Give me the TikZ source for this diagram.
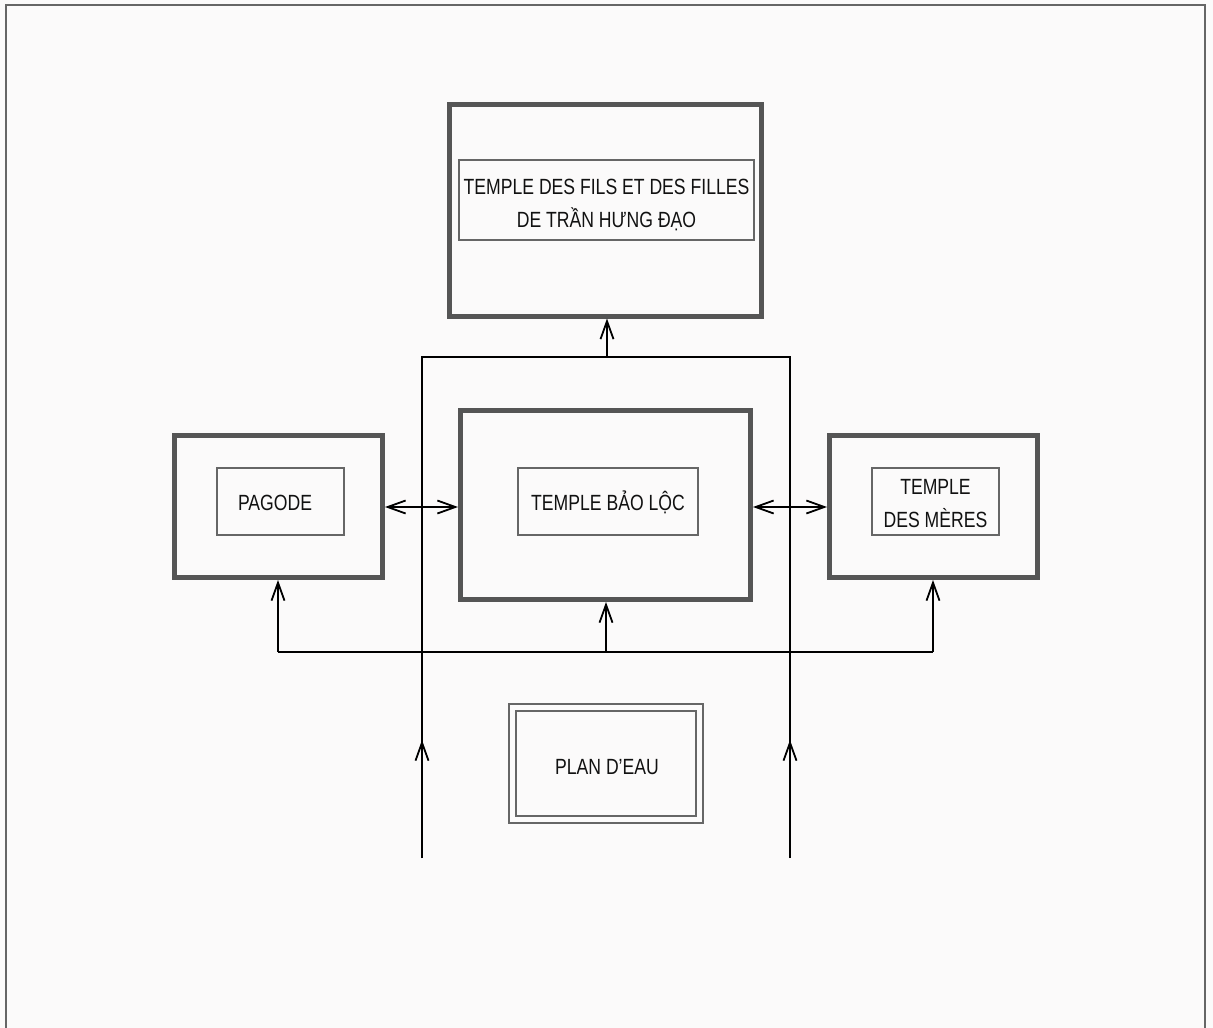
\documentclass[tikz,border=0pt]{standalone}
\usepackage{fontspec}
\setmainfont{Liberation Sans}[FakeStretch=0.8]
\usetikzlibrary{arrows.meta}
\definecolor{bgcol}{HTML}{FBFAFA}
\definecolor{thickgray}{HTML}{555555}
\definecolor{thingray}{HTML}{666666}
\definecolor{ink}{HTML}{111111}
\tikzset{
  bigbox/.style={draw=thickgray, line width=5pt, minimum width=#1, inner sep=0pt},
  innerbox/.style={draw=thingray, line width=1.6pt, inner sep=0pt},
  label/.style={font=\fontsize{22}{33}\selectfont, text=ink, align=center, inner sep=0pt},
  conn/.style={draw=black, line width=1.8pt},
  arr/.style={conn, -{Straight Barb[length=18pt,width=13pt,line width=1.8pt]}},
  darr/.style={conn, {Straight Barb[length=18pt,width=13pt,line width=1.8pt]}-{Straight Barb[length=18pt,width=13pt,line width=1.8pt]}},
}
\begin{document}
\begin{tikzpicture}[x=1pt,y=-1pt]
\useasboundingbox (0,0) rectangle (1213,1028);
\clip (0,0) rectangle (1213,1028);
\fill[bgcol] (0,0) rectangle (1213,1028);
\draw[draw=thingray, line width=2pt] (6,1040) -- (6,5) -- (1205,5) -- (1205,1040);
% top temple
\node[bigbox=311.5pt, minimum height=212pt] (tdf) at (605.25,210) {};
\node[innerbox, minimum width=295pt, minimum height=80pt] (tdfi) at (606.5,200) {};
\node[label] (tdft) at (606.5,204.5) {TEMPLE DES FILS ET DES FILLES\\DE TRẦN HƯNG ĐẠO};
% pagode
\node[bigbox=208pt, minimum height=142pt] (pagode) at (278.5,506.5) {};
\node[innerbox, minimum width=127pt, minimum height=67pt] (pagodei) at (280.5,501.5) {};
\node[label] (pagodet) at (275,502.5) {PAGODE};
% bao loc
\node[bigbox=290pt, minimum height=189pt] (baoloc) at (605.5,505) {};
\node[innerbox, minimum width=180pt, minimum height=67pt] (baoloci) at (608,501.5) {};
\node[label] (baolocet) at (608,502.5) {TEMPLE BẢO LỘC};
% meres
\node[bigbox=208pt, minimum height=142pt] (meres) at (933.5,506.5) {};
\node[innerbox, minimum width=127pt, minimum height=67pt] (meresi) at (935.5,501.5) {};
\node[label] (merest) at (935.5,503.5) {TEMPLE\\DES MÈRES};
% plan d'eau
\node[innerbox, minimum width=194pt, minimum height=119pt] (plan) at (606,763.5) {};
\node[innerbox, minimum width=180pt, minimum height=105pt] (plani) at (606,763.5) {};
\node[label] (plant) at (607,767.5) {PLAN D’EAU};
% coordinates
\coordinate (uL) at (422,858);
\coordinate (uR) at (790,858);
\coordinate (uTL) at (422,357);
\coordinate (uTR) at (790,357);
\coordinate (uTop) at (607,357);
\coordinate (mL) at (422,740);
\coordinate (mR) at (790,740);
\coordinate (busL) at (278,652);
\coordinate (busM) at (606,652);
\coordinate (busR) at (933,652);
\coordinate (aL) at (385,507);
\coordinate (aR) at (827,507);
% connectors
\draw[conn] (uL) -- (uTL) -- (uTR) -- (uR);
\draw[arr] (uL) -- (mL);
\draw[arr] (uR) -- (mR);
\draw[arr] (uTop) -- (uTop |- tdf.south);
\draw[conn] (busL) -- (busR);
\draw[arr] (busL) -- (busL |- pagode.south);
\draw[arr] (busM) -- (busM |- baoloc.south);
\draw[arr] (busR) -- (busR |- meres.south);
\draw[darr] (aL -| pagode.east) -- (aL -| baoloc.west);
\draw[darr] (aR -| baoloc.east) -- (aR -| meres.west);
\end{tikzpicture}
\end{document}
